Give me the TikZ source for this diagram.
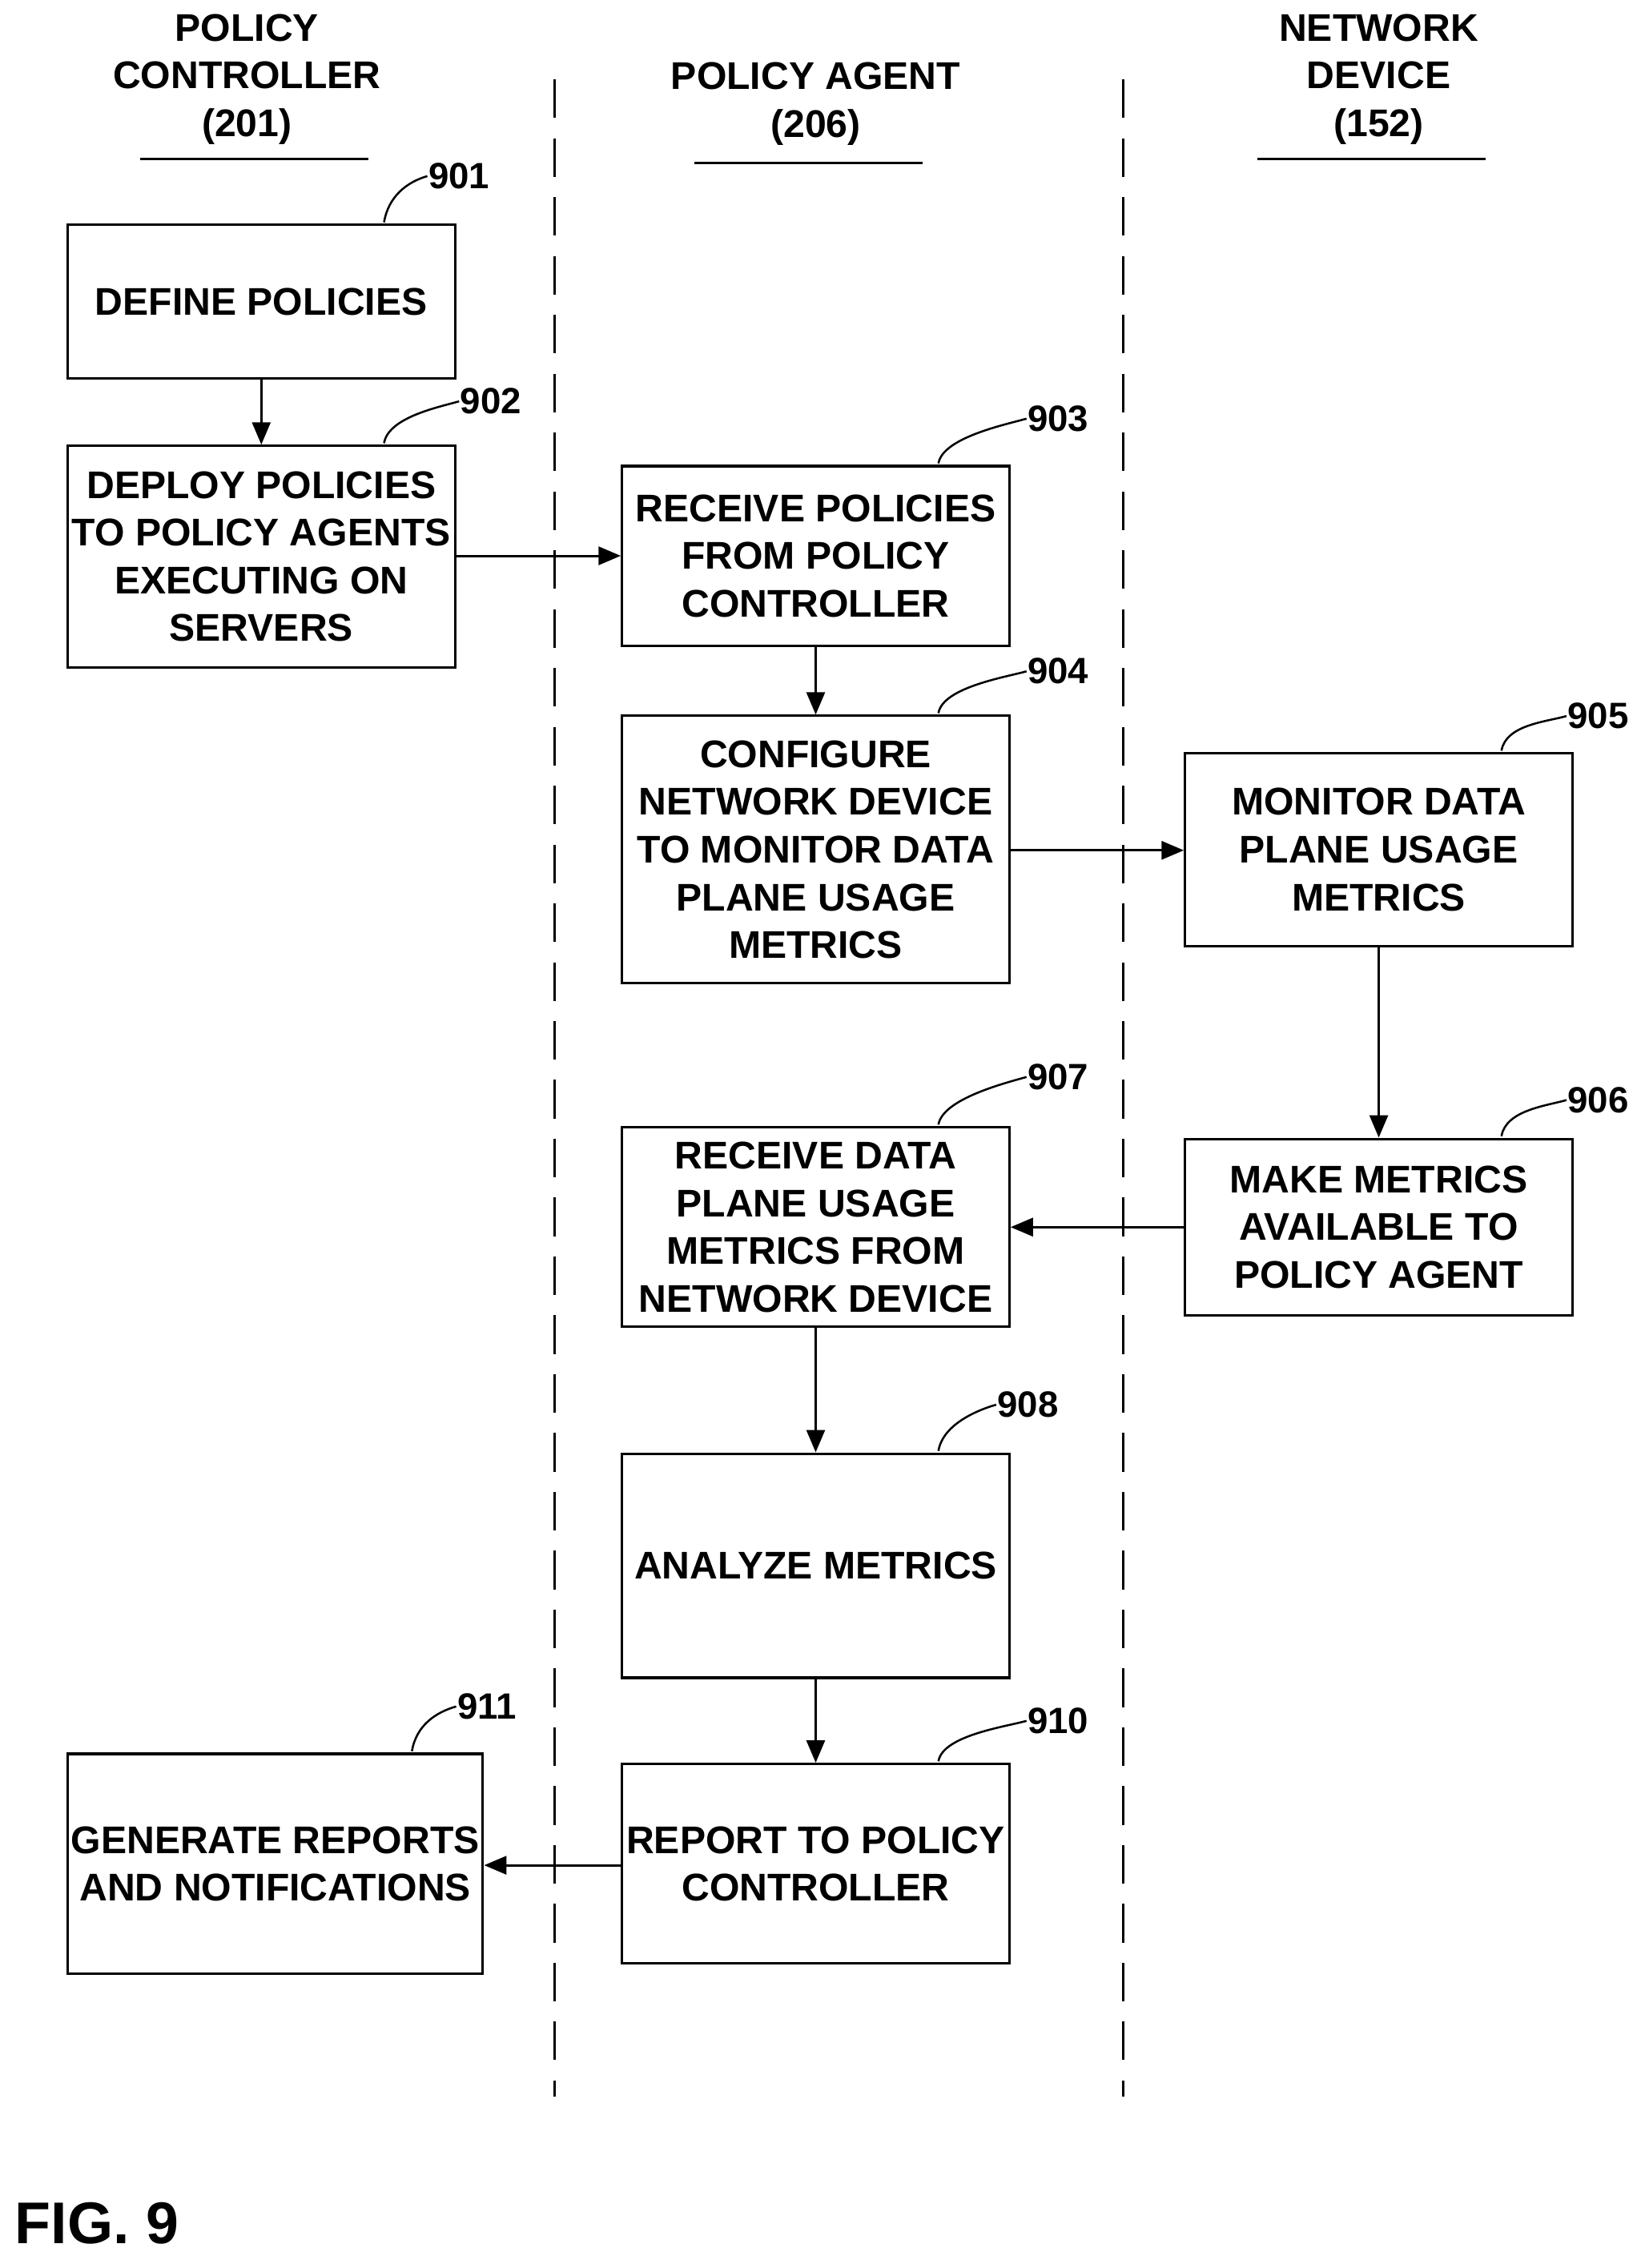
\documentclass[tikz,border=0pt]{standalone}
\usepackage{fontspec}
\setmainfont{Liberation Sans}
\usetikzlibrary{arrows.meta}
\begin{document}
\begin{tikzpicture}[x=0.05cm,y=-0.05cm,
  box/.style={draw,line width=2.4pt,align=center,font=\bfseries\fontsize{38}{47}\selectfont},
  txt/.style={align=center,font=\bfseries\fontsize{38}{47}\selectfont},
  lab/.style={font=\bfseries\fontsize{36}{40}\selectfont,anchor=west,inner sep=1pt},
  arr/.style={line width=2.4pt,-{Triangle[length=22pt,width=18pt]}},
  sq/.style={line width=2pt},
  dl/.style={line width=2.6pt,dash pattern=on 38pt off 20pt}]
\useasboundingbox (0,0) rectangle (1139,1571);
\newcommand{\bx}[6]{\node[box,minimum width=#4*0.05cm-2.4pt,minimum height=#5*0.05cm-2.4pt,anchor=north west] (#1) at (#2,#3) {#6};}
\bx{b901}{46}{155}{270}{108}{DEFINE POLICIES}
\bx{b902}{46}{308}{270}{155}{DEPLOY POLICIES\\TO POLICY AGENTS\\EXECUTING ON\\SERVERS}
\bx{b903}{430}{322}{270}{126}{RECEIVE POLICIES\\FROM POLICY\\CONTROLLER}
\bx{b904}{430}{495}{270}{187}{CONFIGURE\\NETWORK DEVICE\\TO MONITOR DATA\\PLANE USAGE\\METRICS}
\bx{b905}{820}{521}{270}{135}{MONITOR DATA\\PLANE USAGE\\METRICS}
\bx{b906}{820}{788}{270}{124}{MAKE METRICS\\AVAILABLE TO\\POLICY AGENT}
\bx{b907}{430}{780}{270}{140}{RECEIVE DATA\\PLANE USAGE\\METRICS FROM\\NETWORK DEVICE}
\bx{b908}{430}{1006}{270}{157}{ANALYZE METRICS}
\bx{b910}{430}{1221}{270}{140}{REPORT TO POLICY\\CONTROLLER}
\bx{b911}{46}{1214}{270}{154}{GENERATE REPORTS\\AND NOTIFICATIONS}
% dashed lines
\coordinate (d1a) at (384,55); \coordinate (d1b) at (384,1452);
\coordinate (d2a) at (778,55); \coordinate (d2b) at (778,1452);
\draw[dl] (d1a) -- (d1b); \draw[dl] (d2a) -- (d2b);
% headers
\node[txt] (h1) at (171,55) {POLICY\\CONTROLLER\\(201)};
\node[txt] (h2) at (565,72) {POLICY AGENT\\(206)};
\node[txt] (h3) at (955,55) {NETWORK\\DEVICE\\(152)};
\coordinate (u1a) at (97,110); \coordinate (u1b) at (255,110);
\coordinate (u2a) at (481,113); \coordinate (u2b) at (639,113);
\coordinate (u3a) at (871,110); \coordinate (u3b) at (1029,110);
\draw[line width=2.6pt] (u1a)--(u1b) (u2a)--(u2b) (u3a)--(u3b);
% arrows
\draw[arr] (b901) -- (b902);
\draw[arr] (b902.east |- 0,385) -- (b903.west |- 0,385);
\draw[arr] (b903) -- (b904);
\draw[arr] (b904.east |- 0,589) -- (b905.west |- 0,589);
\draw[arr] (b905) -- (b906);
\draw[arr] (b906.west |- 0,850) -- (b907.east |- 0,850);
\draw[arr] (b907) -- (b908);
\draw[arr] (b908) -- (b910);
\draw[arr] (b910.west |- 0,1292) -- (b911.east |- 0,1292);
% labels
\newcommand{\lb}[4]{\node[lab] (l#1) at (#3,#4) {#1};
  \draw[sq] (#2.north east) ++(-50,-1) .. controls +(3,-18) and +(-14,4) .. (l#1.west);}
\lb{901}{b901}{296}{122}
\lb{902}{b902}{318}{278}
\lb{903}{b903}{711}{290}
\lb{904}{b904}{711}{465}
\lb{905}{b905}{1085}{496}
\lb{906}{b906}{1085}{762}
\lb{907}{b907}{711}{746}
\lb{908}{b908}{690}{973}
\lb{910}{b910}{711}{1192}
\lb{911}{b911}{316}{1182}
\node[font=\bfseries\fontsize{58}{60}\selectfont,anchor=west] (fig) at (8,1540) {FIG. 9};
\end{tikzpicture}
\end{document}
